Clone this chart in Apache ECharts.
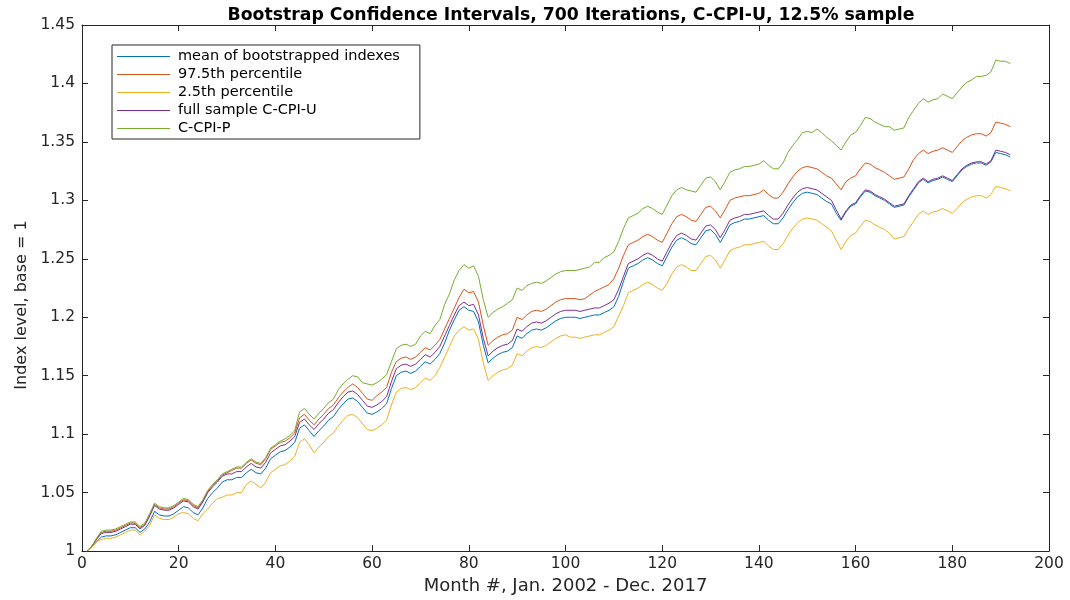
<!DOCTYPE html>
<html>
<head>
<meta charset="utf-8">
<script src="https://cdn.jsdelivr.net/npm/echarts@6/dist/echarts.min.js"></script>
<style>html,body{margin:0;padding:0;background:#fff}#c{width:1070px;height:600px}</style>
</head>
<body>
<div id="c"></div>
<script>
const xTicks = [0, 20, 40, 60, 80, 100, 120, 140, 160, 180, 200];
const yTicks = [1, 1.05, 1.1, 1.15, 1.2, 1.25, 1.3, 1.35, 1.4, 1.45];
const seriesNames = ['mean of bootstrapped indexes', '97.5th percentile', '2.5th percentile', 'full sample C-CPI-U', 'C-CPI-P'];

const meanBoot = [
1.000,1.003,1.008,1.012,1.013,1.013,1.014,1.016,1.018,1.020,
1.020,1.016,1.019,1.025,1.034,1.031,1.030,1.030,1.032,1.035,
1.038,1.037,1.033,1.031,1.037,1.045,1.050,1.054,1.059,1.061,
1.061,1.063,1.063,1.067,1.070,1.067,1.066,1.071,1.079,1.082,
1.085,1.086,1.089,1.093,1.105,1.108,1.103,1.098,1.103,1.107,
1.112,1.115,1.121,1.126,1.130,1.131,1.128,1.123,1.118,1.117,
1.119,1.122,1.126,1.139,1.150,1.153,1.154,1.152,1.154,1.158,
1.162,1.160,1.164,1.169,1.178,1.189,1.198,1.206,1.209,1.206,
1.205,1.196,1.176,1.161,1.165,1.168,1.170,1.171,1.174,1.184,
1.182,1.186,1.189,1.190,1.189,1.191,1.194,1.197,1.199,1.200,
1.200,1.200,1.199,1.200,1.201,1.202,1.202,1.204,1.206,1.209,
1.218,1.231,1.242,1.244,1.246,1.249,1.251,1.249,1.246,1.244,
1.252,1.260,1.266,1.268,1.266,1.263,1.262,1.268,1.274,1.275,
1.271,1.264,1.271,1.279,1.281,1.282,1.284,1.284,1.285,1.286,
1.287,1.283,1.280,1.280,1.285,1.292,1.298,1.303,1.306,1.307,
1.306,1.305,1.302,1.299,1.297,1.289,1.283,1.290,1.295,1.297,
1.303,1.308,1.307,1.304,1.302,1.300,1.297,1.294,1.295,1.296,
1.303,1.309,1.315,1.318,1.315,1.317,1.318,1.320,1.318,1.316,
1.321,1.326,1.329,1.331,1.332,1.332,1.330,1.333,1.341,1.340,1.339,1.337];

const pct975 = [
1.000,1.004,1.010,1.016,1.017,1.017,1.018,1.020,1.022,1.024,
1.024,1.020,1.023,1.031,1.040,1.037,1.036,1.036,1.038,1.041,
1.044,1.043,1.039,1.037,1.043,1.051,1.056,1.060,1.065,1.067,
1.069,1.071,1.071,1.075,1.078,1.075,1.074,1.079,1.087,1.090,
1.093,1.094,1.097,1.101,1.114,1.117,1.112,1.108,1.113,1.117,
1.122,1.125,1.131,1.136,1.140,1.143,1.140,1.135,1.130,1.129,
1.133,1.136,1.140,1.153,1.162,1.165,1.166,1.164,1.166,1.170,
1.174,1.172,1.176,1.181,1.190,1.199,1.208,1.217,1.224,1.221,
1.222,1.213,1.193,1.176,1.180,1.183,1.185,1.186,1.189,1.200,
1.198,1.202,1.205,1.206,1.205,1.207,1.210,1.213,1.215,1.216,
1.216,1.216,1.215,1.216,1.219,1.222,1.224,1.226,1.228,1.233,
1.242,1.253,1.262,1.264,1.266,1.269,1.271,1.269,1.266,1.264,
1.272,1.280,1.286,1.288,1.286,1.283,1.282,1.288,1.294,1.295,
1.291,1.285,1.292,1.300,1.302,1.303,1.304,1.304,1.305,1.306,
1.309,1.305,1.302,1.302,1.307,1.314,1.320,1.325,1.328,1.329,
1.328,1.327,1.324,1.321,1.319,1.314,1.309,1.316,1.319,1.321,
1.327,1.332,1.331,1.328,1.326,1.324,1.321,1.318,1.319,1.320,
1.327,1.335,1.340,1.343,1.340,1.342,1.343,1.345,1.343,1.341,
1.346,1.351,1.354,1.356,1.357,1.357,1.355,1.358,1.367,1.366,1.365,1.363];

const pct25 = [
1.000,1.003,1.008,1.010,1.011,1.011,1.012,1.014,1.016,1.018,
1.018,1.014,1.017,1.022,1.031,1.028,1.027,1.027,1.029,1.032,
1.033,1.032,1.028,1.026,1.032,1.036,1.041,1.045,1.046,1.048,
1.048,1.050,1.050,1.057,1.060,1.057,1.054,1.059,1.067,1.070,
1.073,1.074,1.077,1.081,1.093,1.096,1.091,1.084,1.089,1.093,
1.098,1.101,1.107,1.112,1.116,1.117,1.114,1.109,1.104,1.103,
1.105,1.108,1.112,1.125,1.136,1.139,1.140,1.138,1.140,1.144,
1.148,1.146,1.150,1.157,1.166,1.175,1.184,1.189,1.192,1.189,
1.190,1.181,1.161,1.146,1.150,1.153,1.155,1.156,1.159,1.169,
1.167,1.171,1.174,1.175,1.174,1.176,1.179,1.182,1.184,1.185,
1.183,1.183,1.182,1.183,1.184,1.185,1.185,1.187,1.189,1.192,
1.201,1.210,1.221,1.223,1.225,1.228,1.230,1.228,1.225,1.223,
1.229,1.237,1.243,1.245,1.243,1.240,1.240,1.246,1.252,1.253,
1.249,1.242,1.249,1.257,1.259,1.260,1.262,1.262,1.263,1.264,
1.265,1.261,1.258,1.258,1.263,1.270,1.276,1.281,1.284,1.285,
1.284,1.283,1.280,1.277,1.274,1.266,1.258,1.265,1.270,1.272,
1.278,1.283,1.282,1.279,1.277,1.275,1.272,1.267,1.268,1.269,
1.276,1.282,1.288,1.291,1.288,1.290,1.291,1.293,1.291,1.289,
1.293,1.298,1.301,1.303,1.304,1.304,1.302,1.305,1.312,1.311,1.310,1.308];

const fullSampleCCPIU = [
1.000,1.004,1.010,1.015,1.016,1.016,1.017,1.019,1.021,1.023,
1.023,1.019,1.022,1.030,1.039,1.036,1.035,1.035,1.037,1.040,
1.043,1.042,1.038,1.036,1.042,1.050,1.055,1.059,1.064,1.066,
1.066,1.068,1.068,1.072,1.075,1.072,1.071,1.076,1.084,1.087,
1.090,1.091,1.094,1.098,1.110,1.113,1.108,1.104,1.109,1.113,
1.118,1.121,1.127,1.132,1.136,1.137,1.134,1.129,1.124,1.123,
1.125,1.128,1.132,1.145,1.156,1.159,1.160,1.158,1.160,1.164,
1.168,1.166,1.170,1.175,1.184,1.193,1.202,1.210,1.213,1.210,
1.211,1.202,1.182,1.167,1.171,1.174,1.176,1.177,1.180,1.190,
1.188,1.192,1.195,1.196,1.195,1.197,1.200,1.203,1.205,1.206,
1.206,1.206,1.205,1.206,1.207,1.208,1.208,1.210,1.212,1.215,
1.224,1.235,1.246,1.248,1.250,1.253,1.255,1.253,1.250,1.248,
1.256,1.264,1.270,1.272,1.270,1.267,1.266,1.272,1.278,1.279,
1.275,1.268,1.275,1.283,1.285,1.286,1.288,1.288,1.289,1.290,
1.291,1.287,1.284,1.284,1.289,1.296,1.302,1.307,1.310,1.311,
1.310,1.309,1.306,1.303,1.300,1.292,1.284,1.291,1.296,1.298,
1.304,1.309,1.308,1.305,1.303,1.301,1.298,1.295,1.296,1.297,
1.304,1.310,1.316,1.319,1.316,1.318,1.319,1.321,1.319,1.317,
1.322,1.327,1.330,1.332,1.333,1.333,1.331,1.334,1.343,1.342,1.341,1.339];

const ccpiP = [
1.000,1.004,1.011,1.017,1.018,1.018,1.019,1.021,1.023,1.025,
1.025,1.021,1.024,1.032,1.041,1.038,1.037,1.037,1.039,1.042,
1.045,1.044,1.040,1.038,1.044,1.052,1.057,1.061,1.066,1.068,
1.070,1.072,1.072,1.076,1.079,1.076,1.075,1.080,1.088,1.091,
1.094,1.096,1.099,1.103,1.119,1.122,1.117,1.113,1.118,1.122,
1.127,1.130,1.138,1.143,1.147,1.150,1.149,1.144,1.143,1.142,
1.144,1.147,1.151,1.162,1.173,1.176,1.177,1.175,1.177,1.184,
1.188,1.186,1.193,1.198,1.211,1.220,1.232,1.240,1.245,1.242,
1.244,1.235,1.215,1.200,1.204,1.207,1.209,1.212,1.215,1.225,
1.223,1.227,1.229,1.230,1.229,1.231,1.234,1.237,1.239,1.240,
1.240,1.240,1.241,1.242,1.243,1.247,1.247,1.251,1.253,1.256,
1.265,1.276,1.285,1.287,1.289,1.293,1.295,1.293,1.290,1.288,
1.296,1.304,1.309,1.311,1.309,1.308,1.307,1.313,1.319,1.320,
1.316,1.309,1.316,1.324,1.326,1.327,1.329,1.329,1.330,1.331,
1.334,1.330,1.327,1.327,1.332,1.341,1.347,1.352,1.358,1.359,
1.358,1.361,1.358,1.354,1.351,1.347,1.343,1.350,1.356,1.358,
1.364,1.371,1.370,1.367,1.365,1.363,1.363,1.360,1.361,1.362,
1.371,1.377,1.383,1.387,1.384,1.386,1.387,1.391,1.389,1.387,
1.392,1.397,1.401,1.403,1.406,1.406,1.407,1.410,1.420,1.419,1.419,1.417];

const months = meanBoot.map((_, i) => i + 1);
const colors = ['#0072BD', '#D95319', '#EDB120', '#7E2F8E', '#77AC30'];
const allValues = [meanBoot, pct975, pct25, fullSampleCCPIU, ccpiP];

const FONT = "'DejaVu Sans', 'Liberation Sans', sans-serif";
const axisCol = '#262626';

const chart = echarts.init(document.getElementById('c'), null, {renderer: 'canvas'});

const baseX = {
  type: 'value', min: xTicks[0], max: xTicks[xTicks.length - 1], interval: xTicks[1] - xTicks[0],
  axisLine: {show: true, onZero: false, lineStyle: {color: axisCol, width: 1}},
  axisTick: {show: true, inside: true, length: 6, lineStyle: {color: axisCol}},
  splitLine: {show: false}
};
const baseY = {
  type: 'value', min: yTicks[0], max: yTicks[yTicks.length - 1], interval: 0.05,
  axisLine: {show: true, onZero: false, lineStyle: {color: axisCol, width: 1}},
  axisTick: {show: true, inside: true, length: 6, lineStyle: {color: axisCol}},
  splitLine: {show: false}
};

chart.setOption({
  backgroundColor: '#ffffff',
  animation: false,
  title: {
    text: 'Bootstrap Confidence Intervals, 700 Iterations, C-CPI-U, 12.5% sample',
    left: 566, top: 2, textAlign: 'center',
    textStyle: {fontFamily: FONT, fontSize: 17.3, fontWeight: 'bold', color: '#000'}
  },
  grid: {left: 82, right: 21, top: 25, bottom: 48, containLabel: false},
  legend: {
    orient: 'vertical', left: 112, top: 45,
    icon: 'rect', itemWidth: 53, itemHeight: 1, itemGap: 3,
    padding: [4, 20, 3, 5],
    borderColor: axisCol, borderWidth: 1, backgroundColor: '#fff',
    textStyle: {fontFamily: FONT, fontSize: 14.5, color: '#000', padding: [0, 0, 0, 3]},
    data: seriesNames
  },
  xAxis: [
    Object.assign({}, baseX, {
      position: 'bottom',
      axisLabel: {show: true, color: axisCol, fontFamily: FONT, fontSize: 15.5, margin: 5},
      name: 'Month #, Jan. 2002 - Dec. 2017', nameLocation: 'middle', nameGap: 25,
      nameTextStyle: {fontFamily: FONT, fontSize: 18, color: axisCol}
    }),
    Object.assign({}, baseX, {position: 'top', axisLabel: {show: false}})
  ],
  yAxis: [
    Object.assign({}, baseY, {
      position: 'left',
      axisLabel: {show: true, color: axisCol, fontFamily: FONT, fontSize: 15.5, margin: 7},
      name: 'Index level, base = 1', nameLocation: 'middle', nameGap: 50, nameRotate: 90,
      nameTextStyle: {fontFamily: FONT, fontSize: 16, color: axisCol, padding: [0, 34, 0, 0]}
    }),
    Object.assign({}, baseY, {position: 'right', axisLabel: {show: false}})
  ],
  series: seriesNames.map((name, k) => ({
    name: name,
    type: 'line',
    xAxisIndex: 0, yAxisIndex: 0,
    showSymbol: false, symbol: 'none',
    lineStyle: {color: colors[k], width: 1},
    itemStyle: {color: colors[k]},
    data: months.map((m, i) => [m, allValues[k][i]]),
    z: 2 + k
  }))
});
</script>
</body>
</html>
